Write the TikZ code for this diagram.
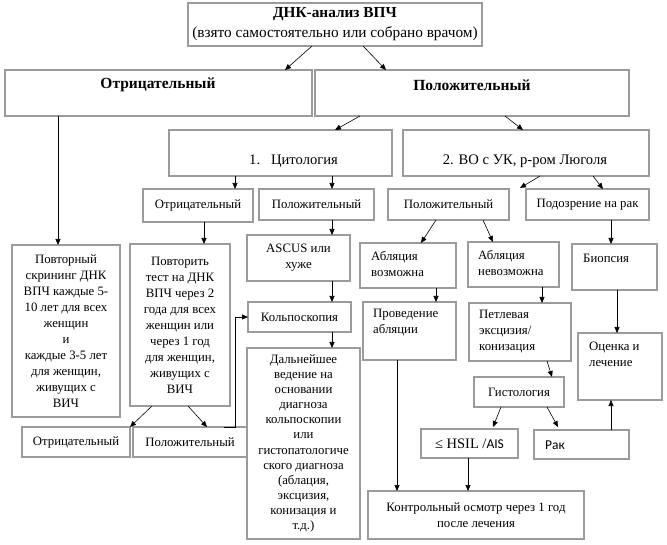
\documentclass[tikz,border=0pt]{standalone}
\usepackage{fontspec}
\setmainfont{Liberation Serif}
\newfontfamily\calfont{Carlito}
\usetikzlibrary{arrows.meta}
\definecolor{boxgray}{RGB}{155,155,155}
\newcommand\fsn{\fontsize{12.8}{16}\selectfont}
\newcommand\fsd{\fontsize{12.8}{15.1}\selectfont}
\newcommand\fsc{\fontsize{14.6}{17}\selectfont}
\newcommand\fsb{\fontsize{15.5}{18}\selectfont\bfseries}
\newcommand\fst{\fontsize{15.3}{20}\selectfont}
\newcommand\bx[6][]{%
  \node[box,#1,minimum width={(#4-#2)*1pt},minimum height={(#5-#3)*1pt}]
    (#6) at ({(#2+#4)/2},{(#3+#5)/2})}
\begin{document}
\begin{tikzpicture}[x=1pt,y=-1pt,
  box/.style={draw=boxgray,line width=1.1pt,inner sep=0pt,outer sep=0pt,align=center,font=\fsn},
  arr/.style={-{Triangle[length=6pt,width=5pt]},line width=0.6pt,black},
  ltxt/.style={inner sep=0pt,anchor=west,align=left,font=\fsn}]
\useasboundingbox (0,0) rectangle (667,545);
% boxes
\bx[font=\fst]{188}{3}{482}{46}{top} {{\bfseries ДНК-анализ ВПЧ}\\(взято самостоятельно или собрано врачом)};
\bx{5}{70}{312}{116}{bneg} {};
\node[inner sep=0pt,font=\fsb] (tbneg) at (158,85) {Отрицательный};
\bx{315}{70}{629}{116}{bpos} {};
\node[inner sep=0pt,font=\fsb] (tbpos) at (472,85) {Положительный};
\bx{169}{130}{392}{176}{cyto} {};
\node[inner sep=0pt,anchor=west,font=\fsc] (tcyto) at (249,161) {1.\hspace{11pt}Цитология};
\bx{403}{130}{649}{176}{vo} {};
\node[inner sep=0pt,font=\fsc] (tvo) at (525,161) {2. ВО с УК, р-ром Люголя};
\bx{143}{189}{253}{222}{neg1} {Отрицательный};
\bx{259}{189}{374}{220}{pos1} {Положительный};
\bx{388}{189}{509}{220}{pos2} {Положительный};
\bx{526}{189}{649}{220}{sus} {Подозрение на рак};
\bx{12}{245}{120}{417}{rep1} {Повторный\\скрининг ДНК\\ВПЧ каждые 5-\\10 лет для всех\\женщин\\и\\каждые 3-5 лет\\для женщин,\\живущих с\\ВИЧ};
\bx{130}{244}{230}{406}{rep2} {Повторить\\тест на ДНК\\ВПЧ через 2\\года для всех\\женщин или\\через 1 год\\для женщин,\\живущих с\\ВИЧ};
\bx{247}{235}{350}{281}{ascus} {ASCUS или\\хуже};
\bx{360}{243}{456}{288}{abl1} {};
\node[ltxt] (tabl1) at (371,264) {Абляция\\возможна};
\bx{468}{242}{559}{287}{abl2} {};
\node[ltxt] (tabl2) at (478,263) {Абляция\\невозможна};
\bx{572}{244}{657}{290}{bio} {};
\node[ltxt] (tbio) at (583,258) {Биопсия};
\bx{248}{302}{351}{332}{kolpo} {Кольпоскопия};
\bx{363}{302}{456}{360}{prov} {};
\node[ltxt] (tprov) at (373,323) {Проведение\\абляции};
\bx{469}{303}{571}{361}{petl} {};
\node[ltxt] (tpetl) at (479,332) {Петлевая\\эксцизия/\\конизация};
\bx{578}{333}{662}{400}{ocen} {};
\node[ltxt] (tocen) at (589,354) {Оценка и\\лечение};
\bx[font=\fsd]{247}{348}{360}{539}{dal} {Дальнейшее\\ведение на\\основании\\диагноза\\кольпоскопии\\или\\гистопатологиче\\ского диагноза\\(аблация,\\эксцизия,\\конизация и\\т.д.)};
\bx{474}{377}{564}{407}{hist} {Гистология};
\bx{421}{429}{518}{458}{hsil} {\fontsize{14.5}{16}\selectfont ≤ HSIL /{\calfont\fontsize{13.5}{16}\selectfont AIS}};
\bx{534}{430}{629}{459}{rak} {};
\node[inner sep=0pt,anchor=west,font=\calfont\fontsize{13.5}{16}\selectfont] (trak) at (545,445) {Рак};
\bx{368}{491}{584}{539}{kontr} {Контрольный осмотр через 1 год\\после лечения};
\bx{22}{427}{130}{457}{neg3} {Отрицательный};
\bx{133}{427}{247}{457}{pos3} {Положительный};
% connectors
\draw[arr] ([xshift=124pt]top.south west) -- ([xshift=280pt]bneg.north west);
\draw[arr] ([xshift=175pt]top.south west) -- ([xshift=71pt]bpos.north west);
\draw[arr] ([xshift=53pt]bneg.south west) -- ([xshift=46pt]rep1.north west);
\draw[arr] ([xshift=45pt]bpos.south west) -- ([xshift=166pt]cyto.north west);
\draw[arr] ([xshift=190pt]bpos.south west) -- ([xshift=120pt]vo.north west);
\draw[arr] ([xshift=66pt]cyto.south west) -- ([xshift=92pt]neg1.north west);
\draw[arr] ([xshift=163pt]cyto.south west) -- ([xshift=73pt]pos1.north west);
\draw[arr] ([xshift=137pt]vo.south west) -- ([xshift=11pt,yshift=1pt]pos2.north east);
\draw[arr] ([xshift=190pt]vo.south west) -- ([xshift=77pt]sus.north west);
\draw[arr] ([xshift=61pt]neg1.south west) -- ([xshift=74pt]rep2.north west);
\draw[arr] ([xshift=73pt]pos1.south west) -- ([xshift=85pt]ascus.north west);
\draw[arr] ([xshift=48pt]pos2.south west) -- ([xshift=61pt]abl1.north west);
\draw[arr] ([xshift=95pt]pos2.south west) -- ([xshift=25pt]abl2.north west);
\draw[arr] ([xshift=85pt]sus.south west) -- ([xshift=39pt]bio.north west);
\draw[arr] ([xshift=85pt]ascus.south west) -- ([xshift=84pt]kolpo.north west);
\draw[arr] ([xshift=76pt]abl1.south west) -- ([xshift=73pt]prov.north west);
\draw[arr] ([xshift=74pt]abl2.south west) -- ([xshift=73pt]petl.north west);
\draw[arr] ([xshift=45pt]bio.south west) -- ([xshift=39pt]ocen.north west);
\draw[arr] ([xshift=84pt]kolpo.south west) -- ([xshift=85pt]dal.north west);
\draw[arr] ([xshift=78pt]petl.south west) -- ([xshift=78pt]hist.north west);
\draw[arr] ([xshift=27pt]hist.south west) -- ([xshift=72pt,yshift=2pt]hsil.north west);
\draw[arr] ([xshift=73pt]hist.south west) -- ([xshift=24pt,yshift=3pt]rak.north west);
\draw[arr] ([xshift=77pt]rak.north west) -- ([xshift=33pt]ocen.south west);
\draw[arr] ([xshift=34pt]prov.south west) -- ([xshift=29pt]kontr.north west);
\draw[arr] ([xshift=47pt]hsil.south west) -- ([xshift=100pt]kontr.north west);
\draw[arr] ([xshift=22pt]rep2.south west) -- (neg3.north east);
\draw[arr] ([xshift=58pt]rep2.south west) -- ([xshift=74pt]pos3.north west);
\draw[arr] ([xshift=91pt]pos3.north west) -- ([xshift=102pt]pos3.north west) |- (kolpo.west);
\end{tikzpicture}
\end{document}
